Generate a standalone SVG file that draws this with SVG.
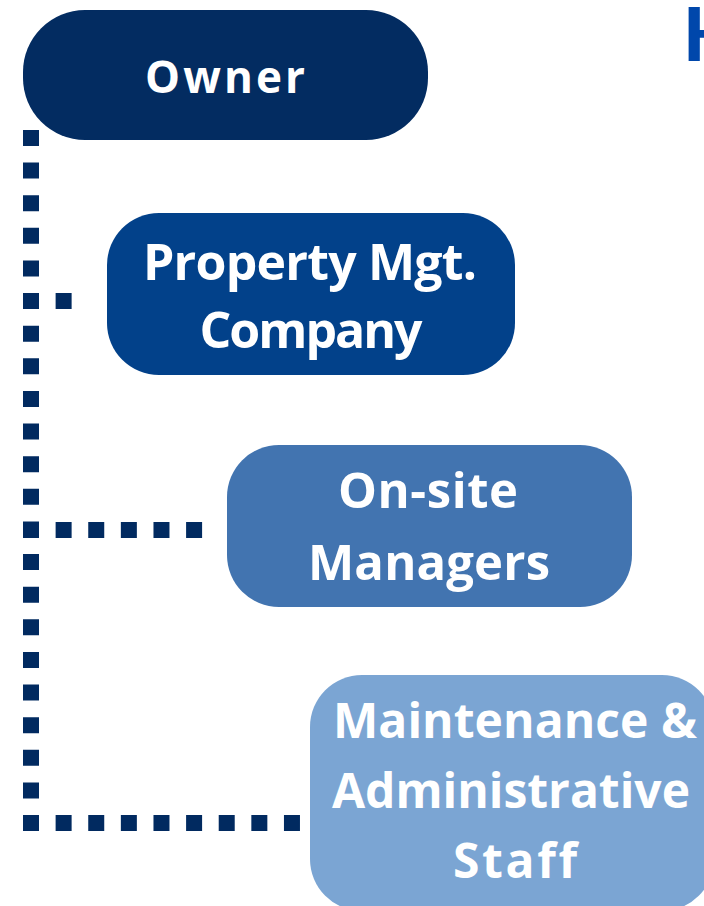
<svg xmlns="http://www.w3.org/2000/svg" width="704" height="906" viewBox="0 0 704 906">
<style>
.lbl{font-family:"Open Sans","Noto Sans","Liberation Sans",sans-serif;font-weight:700;fill:#ffffff;text-anchor:middle;font-variant-ligatures:none}
.dots{stroke:#012a60;stroke-width:16;stroke-dasharray:16 16.62;fill:none}
</style>
<rect width="704" height="906" fill="#ffffff"/>
<text x="683" y="61" font-family="Lato,'Noto Sans',sans-serif" font-weight="900" font-size="74" fill="#0047ab">H</text>
<g id="connectors">
<line class="dots" x1="31" y1="130" x2="31" y2="832"/>
<line class="dots" x1="23" y1="301" x2="72" y2="301"/>
<line class="dots" x1="23" y1="530" x2="203" y2="530"/>
<line class="dots" x1="23" y1="823" x2="301" y2="823"/>
</g>
<g id="owner">
<rect x="23" y="10" width="405" height="130" rx="62" fill="#032c61"/>
<text class="lbl" x="225" y="93" font-size="44" font-weight="600" textLength="160">Owner</text>
</g>
<g id="property-mgt">
<rect x="107" y="213" width="408" height="162" rx="52" fill="#02418a"/>
<text class="lbl" x="310" y="280" font-size="50" textLength="334">Property Mgt.</text>
<text class="lbl" x="311" y="348" font-size="50" textLength="223">Company</text>
</g>
<g id="onsite-managers">
<rect x="227" y="445" width="405" height="162" rx="52" fill="#4274b0"/>
<text class="lbl" x="428" y="508" font-size="49" textLength="180">On-site</text>
<text class="lbl" x="429" y="580" font-size="49" textLength="242">Managers</text>
</g>
<g id="maintenance-staff">
<rect x="310" y="675" width="404" height="236" rx="52" fill="#7ba5d3"/>
<text class="lbl" x="515" y="738" font-size="48" textLength="364">Maintenance &amp;</text>
<text class="lbl" x="511" y="808" font-size="48" textLength="358">Administrative</text>
<text class="lbl" x="515" y="878" font-size="48" textLength="124">Staff</text>
</g>
</svg>
